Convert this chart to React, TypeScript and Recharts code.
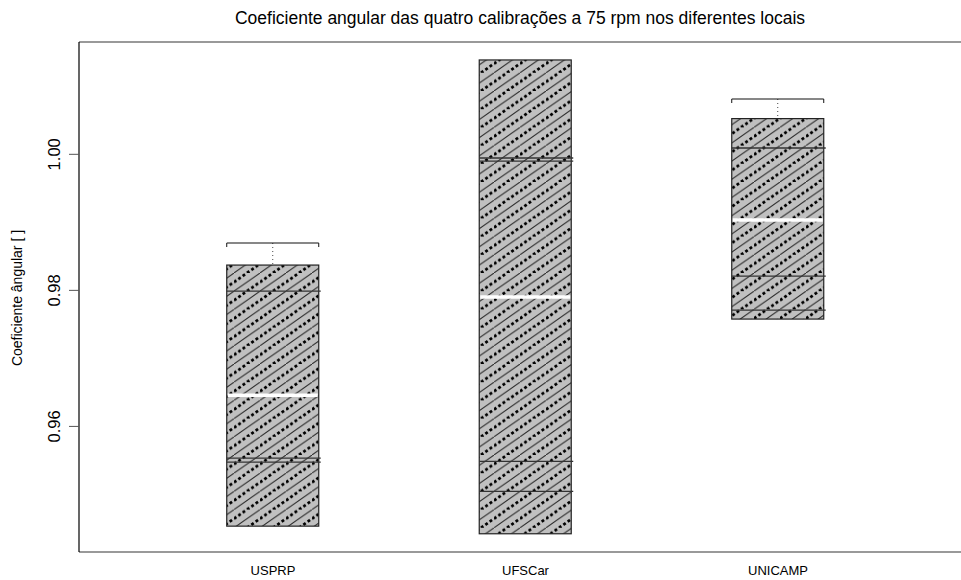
import React from 'react';
import { ComposedChart, Bar, XAxis, YAxis, ReferenceLine } from 'recharts';

// values
const sites = ['USPRP', 'UFSCar', 'UNICAMP'];
const sitePos = [1, 2, 3];
const boxLow = [0.94534, 0.94422, 0.97578];
const boxHigh = [0.98372, 1.01387, 1.00525];
const medians = [0.9646, 0.97904, 0.99034];
const innerLines = [
  [0.9799, 0.95534, 0.95475],
  [0.99946, 0.99901, 0.95487, 0.95046],
  [1.00093, 0.9821, 0.9771],
];
const whiskerTop: Array<number | null> = [0.98696, null, 1.00813];
const yTicks = [0.96, 0.98, 1.0];

const Y_MIN = 0.94154;
const Y_MAX = 1.01651;
const X_MIN = 0.2317;
const X_MAX = 3.7248;

const FONT = '"Liberation Sans", Arial, sans-serif';

// hatch tile: lines rising to the right at ~35 degrees
const HW = 26;
const HH = 18.2;
const SEG = Math.sqrt((HW / 2) ** 2 + (HH / 2) ** 2);
const DOT = SEG / 3;

const data = sites.map((s, i) => ({
  site: s,
  pos: sitePos[i],
  low: boxLow[i],
  high: boxHigh[i],
  median: medians[i],
  lines: innerLines[i],
  whisker: whiskerTop[i],
}));

function BoxShape(props: any) {
  const { x, y, width, height, payload } = props;
  const top = Math.min(y, y + height);
  const bot = Math.max(y, y + height);
  const yOf = (v: number) => top + ((payload.high - v) / (payload.high - payload.low)) * (bot - top);
  const cx = x + width / 2;
  const capY = payload.whisker != null ? yOf(payload.whisker) : null;
  return (
    <g>
      {capY != null ? (
        <g>
          <line x1={cx} y1={capY} x2={cx} y2={top} stroke="#444" strokeWidth={1} strokeDasharray="1 3" />
          <line x1={x} y1={capY} x2={x + width} y2={capY} stroke="#111" strokeWidth={1.2} />
          <line x1={x} y1={capY} x2={x} y2={capY + 4} stroke="#111" strokeWidth={1} />
          <line x1={x + width} y1={capY} x2={x + width} y2={capY + 4} stroke="#111" strokeWidth={1} />
        </g>
      ) : null}
      <rect x={x} y={top} width={width} height={bot - top} fill="url(#hatch)" stroke="#222" strokeWidth={1.2} />
      {payload.lines.map((v: number, i: number) => (
        <line key={i} x1={x} y1={yOf(v)} x2={x + width + 2} y2={yOf(v)} stroke="#333" strokeWidth={1.3} />
      ))}
      <line x1={x + 1} y1={yOf(payload.median)} x2={x + width - 1} y2={yOf(payload.median)} stroke="#fff" strokeWidth={3.5} />
    </g>
  );
}

function YTick(props: any) {
  const { y, payload } = props;
  return (
    <text x={54} y={y} transform={`rotate(-90, 54, ${y})`} textAnchor="middle" dominantBaseline="central"
      fontSize={16.5} fill="#000" fontFamily={FONT}>
      {payload.value.toFixed(2)}
    </text>
  );
}

export default function App() {
  return (
    <div style={{ position: 'absolute', left: 0, top: 0, width: 961, height: 580, background: '#fff' }}>
      <div style={{
        position: 'absolute', left: 79, width: 882, top: 7, textAlign: 'center',
        fontFamily: FONT, fontSize: 17.5, color: '#000', lineHeight: '22px'
      }}>
        Coeficiente angular das quatro calibrações a 75 rpm nos diferentes locais
      </div>
      <div style={{
        position: 'absolute', left: 17, top: 298, transform: 'translate(-50%, -50%) rotate(-90deg)',
        whiteSpace: 'nowrap', fontFamily: FONT, fontSize: 14, color: '#000'
      }}>
        Coeficiente ângular [ ]
      </div>
      <ComposedChart width={961} height={580} data={data} margin={{ top: 42, right: 0, bottom: 0, left: 0 }}>
        <defs>
          <pattern id="hatch" patternUnits="userSpaceOnUse" width={HW} height={HH}>
            <rect x={0} y={0} width={HW} height={HH} fill="#c0c0c0" />
            <line x1={0} y1={HH} x2={HW} y2={0} stroke="#2a2a2a" strokeWidth={1} />
            <line x1={HW / 2} y1={HH} x2={HW} y2={HH / 2} stroke="#000" strokeWidth={2.8}
              strokeDasharray={`${DOT * 0.55} ${DOT * 0.45}`} />
            <line x1={0} y1={HH / 2} x2={HW / 2} y2={0} stroke="#000" strokeWidth={2.8}
              strokeDasharray={`${DOT * 0.55} ${DOT * 0.45}`} />
          </pattern>
        </defs>
        <XAxis
          dataKey="pos"
          type="number"
          domain={[X_MIN, X_MAX]}
          ticks={sitePos}
          tickFormatter={(v: number) => sites[sitePos.indexOf(v)]}
          tickLine={false}
          tickSize={0}
          tickMargin={14}
          height={28}
          axisLine={{ stroke: '#777', strokeWidth: 1.5 }}
          tick={{ fontSize: 13, fill: '#000', fontFamily: FONT }}
          allowDataOverflow
        />
        <YAxis
          type="number"
          domain={[Y_MIN, Y_MAX]}
          ticks={yTicks}
          width={79}
          tickSize={10}
          tickLine={{ stroke: '#555' }}
          axisLine={{ stroke: '#000', strokeWidth: 1.2 }}
          tick={<YTick />}
          allowDataOverflow
        />
        <ReferenceLine y={Y_MAX} stroke="#777" strokeWidth={1.5} />
        <Bar dataKey={(d: any) => [d.low, d.high]} barSize={92} shape={<BoxShape />} isAnimationActive={false} />
      </ComposedChart>
    </div>
  );
}
